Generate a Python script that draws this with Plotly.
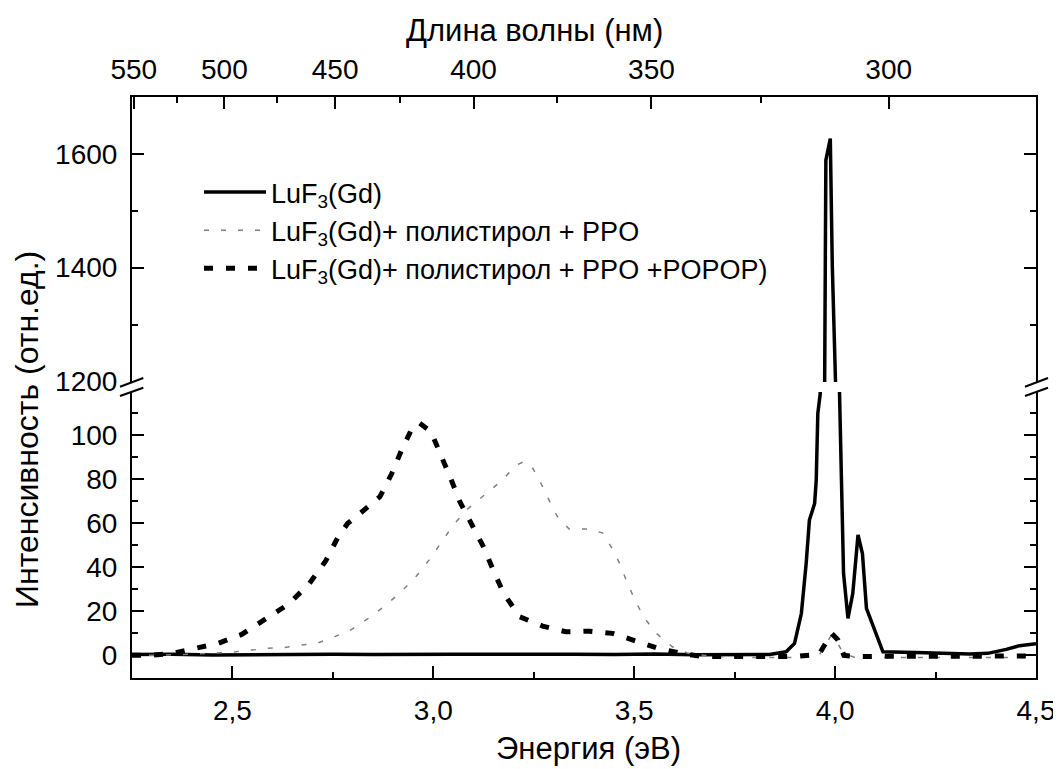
import plotly.graph_objects as go

# ---------------- data ----------------
# LuF3(Gd)  (solid)
lu_E = [2.25, 2.35, 2.45, 2.55, 2.65, 2.75, 2.85, 2.95, 3.05, 3.15, 3.25, 3.35, 3.45, 3.55,
        3.65, 3.75, 3.837, 3.878, 3.899, 3.916, 3.928, 3.936, 3.949, 3.953, 3.957, 3.963,
        3.974, 3.977, 3.988, 3.993, 4.001, 4.011, 4.015, 4.021, 4.032, 4.044, 4.057, 4.068,
        4.078, 4.119, 4.2, 4.3, 4.335, 4.38, 4.426, 4.459, 4.49, 4.5]
lu_I = [0.4, 0.5, 0.2, 0.4, 0.3, 0.5, 0.4, 0.6, 0.5, 0.5, 0.6, 0.5, 0.4, 0.6,
        0.3, 0.4, 0.4, 1.6, 5.4, 19, 41.8, 61.5, 69, 79.7, 110, 119,
        1200, 1589, 1627, 1403, 1200, 119, 79.7, 37.2, 16.8, 28.2, 54.7, 46.3,
        21.4, 1.6, 1.3, 0.8, 0.6, 0.9, 2.7, 4.4, 5.2, 5.3]

# LuF3(Gd) + polystyrene + PPO (grey dotted)
ppo_E = [2.25, 2.30, 2.40, 2.45, 2.50, 2.548, 2.589, 2.63, 2.672, 2.713, 2.755, 2.796, 2.838,
         2.879, 2.918, 2.958, 2.991, 3.02, 3.048, 3.084, 3.126, 3.167, 3.207, 3.225, 3.244,
         3.267, 3.287, 3.308, 3.338, 3.381, 3.421, 3.446, 3.466, 3.482, 3.501, 3.522, 3.553,
         3.595, 3.634, 3.70, 3.80, 3.90, 3.96, 3.99, 4.005, 4.02, 4.05, 4.15, 4.25, 4.35,
         4.45, 4.5]
ppo_I = [0, 0, 0.5, 1, 1.5, 2.4, 3.2, 3.6, 4.5, 5.7, 8.5, 11.7, 16.8,
         22.4, 28.5, 36.1, 43.7, 51.2, 58.8, 66.3, 72.8, 78.9, 86.5, 88, 86.2,
         78.5, 70.9, 63.3, 57.4, 57.4, 55.7, 48.3, 40.9, 33.2, 25.5, 17.9, 10.3,
         3.9, 0.9, -0.5, -1, -1, 0, 9, 6, 1, -1, -1, -1, -1,
         -1, -1]

# LuF3(Gd) + polystyrene + PPO + POPOP (black dashed)
pop_E = [2.25, 2.295, 2.351, 2.409, 2.465, 2.523, 2.581, 2.639, 2.69, 2.732, 2.762, 2.787,
         2.811, 2.867, 2.896, 2.921, 2.948, 2.966, 2.994, 3.02, 3.043, 3.066, 3.097, 3.126,
         3.15, 3.175, 3.215, 3.272, 3.33, 3.388, 3.446, 3.501, 3.559, 3.617, 3.67, 3.80,
         3.90, 3.96, 3.991, 4.007, 4.022, 4.05, 4.2, 4.35, 4.5]
pop_I = [0, 0, 0.9, 3.2, 5.5, 9.5, 16.5, 23.2, 32.3, 42.9, 53.5, 60,
         63.5, 72.1, 82.4, 93.3, 103.6, 105.5, 101.7, 91.1, 80.5, 69.8, 59.2, 48.9,
         38.3, 28.2, 17.5, 13.3, 10.7, 11, 10, 6.6, 3.2, 0.9, -0.5, -0.5,
         -0.5, 0.5, 10, 7, 0, -0.5, -0.5, -0.5, -0.3]

names = ["LuF<sub>3</sub>(Gd)",
         "LuF<sub>3</sub>(Gd)+ полистирол + PPO",
         "LuF<sub>3</sub>(Gd)+ полистирол + PPO +POPOP)"]

x_tick_vals = [2.5, 3.0, 3.5, 4.0, 4.5]
x_tick_text = ["2,5", "3,0", "3,5", "4,0", "4,5"]
x_minor_vals = [2.75, 3.25, 3.75, 4.25]
wl_major = [550, 500, 450, 400, 350, 300]
wl_minor = [525, 475, 425, 375, 325]
y_low_major = [0, 20, 40, 60, 80, 100]
y_low_minor = [10, 30, 50, 70, 90, 110]
y_high_major = [1200, 1400, 1600]
y_high_minor = [1300, 1500]

HC = 1240.0  # eV*nm

# ---------------- figure ----------------
FONT = "Liberation Sans, Arial, sans-serif"
OFF = 8                      # default page (body) margin around the figure
FW, FH = 1061 - OFF, 769 - OFF
# plot area in page pixels
PX0, PX1, PY0, PY1 = 132, 1036, 97, 678
L, T = PX0 - OFF, PY0 - OFF
R, B = FW - (PX1 - OFF), FH - (PY1 - OFF)
PW, PH = PX1 - PX0, PY1 - PY0

def py(ypx):
    return (PY1 - ypx) / PH

def px(xpx):
    return (xpx - PX0) / PW

solid = dict(color="black", width=3.5)
dotted = dict(color="#808080", width=1.5, dash="5px,12px")
dashed = dict(color="black", width=5, dash="9px,13px")

fig = go.Figure()
fig.add_trace(go.Scatter(x=lu_E, y=lu_I, mode="lines", line=solid, name=names[0],
                         xaxis="x", yaxis="y", legendrank=1, legendgroup="a"))
fig.add_trace(go.Scatter(x=ppo_E, y=ppo_I, mode="lines", line=dotted, name=names[1],
                         xaxis="x", yaxis="y", legendrank=2, legendgroup="b"))
fig.add_trace(go.Scatter(x=pop_E, y=pop_I, mode="lines", line=dashed, name=names[2],
                         xaxis="x", yaxis="y", legendrank=3, legendgroup="c"))
# upper (broken-axis) segment, same data
fig.add_trace(go.Scatter(x=lu_E, y=lu_I, mode="lines", line=solid, showlegend=False,
                         xaxis="x2", yaxis="y2"))

TICKFONT = dict(family=FONT, size=28, color="black")
axis_common = dict(showline=True, linecolor="black", linewidth=2, ticks="inside",
                   ticklen=12, tickwidth=2, tickcolor="black", showgrid=False,
                   zeroline=False, automargin=False, tickfont=TICKFONT)
minor_common = dict(ticks="inside", ticklen=6, tickwidth=2, tickcolor="black")

xr = [2.25, 4.5]
fig.update_layout(
    width=FW, height=FH,
    margin=dict(l=L, r=R, t=T, b=B, pad=0),
    paper_bgcolor="white", plot_bgcolor="white",
    font=dict(family=FONT, color="black"),
    xaxis=dict(domain=[0, 1], range=xr, anchor="y", tickmode="array",
               tickvals=x_tick_vals, ticktext=x_tick_text,
               minor=dict(tickmode="array", tickvals=x_minor_vals, **minor_common),
               ticklabelstandoff=6, **axis_common),
    xaxis2=dict(domain=[0, 1], range=xr, anchor="y2", side="top", tickmode="array",
                tickvals=[HC / w for w in wl_major], ticktext=[str(w) for w in wl_major],
                minor=dict(tickmode="array", tickvals=[HC / w for w in wl_minor],
                           **minor_common),
                ticklabelstandoff=5, **axis_common),
    yaxis=dict(domain=[0, py(392)], range=[-10.3, 119.7], anchor="x", tickmode="array",
               tickvals=y_low_major, mirror="ticks",
               minor=dict(tickmode="array", tickvals=y_low_minor, **minor_common),
               ticklabelstandoff=7, **axis_common),
    yaxis2=dict(domain=[py(382), 1], range=[1199, 1700], anchor="x2", tickmode="array",
                tickvals=y_high_major, mirror="ticks",
                minor=dict(tickmode="array", tickvals=y_high_minor, **minor_common),
                ticklabelstandoff=7, **axis_common),
    legend=dict(x=px(199), y=py(168), xanchor="left", yanchor="top",
                bgcolor="rgba(0,0,0,0)", font=dict(family=FONT, size=27, color="black"),
                itemwidth=62, tracegroupgap=0, traceorder="grouped"),
    showlegend=True,
)

# axis titles
TITLEFONT = dict(family=FONT, size=31, color="black")
fig.add_annotation(text="Длина волны (нм)", xref="paper", yref="paper",
                   x=px(534), y=py(31), xanchor="center", yanchor="middle",
                   showarrow=False, font=TITLEFONT)
fig.add_annotation(text="Энергия (эВ)", xref="paper", yref="paper",
                   x=px(588), y=py(748), xanchor="center", yanchor="middle",
                   showarrow=False, font=TITLEFONT)
fig.add_annotation(text="Интенсивность (отн.ед.)", xref="paper", yref="paper",
                   x=px(27), y=py(430), xanchor="center", yanchor="middle",
                   showarrow=False, textangle=-90,
                   font=dict(family=FONT, size=32, color="black"))

# axis-break marks
for xa, xb in [(120, 143.3), (1025, 1048)]:
    for ya, yb in [(386.7, 378), (396, 387.7)]:
        fig.add_shape(type="line", xref="paper", yref="paper",
                      x0=px(xa), y0=py(ya), x1=px(xb), y1=py(yb),
                      line=dict(color="black", width=2), layer="above")

fig.write_html("out.html")
